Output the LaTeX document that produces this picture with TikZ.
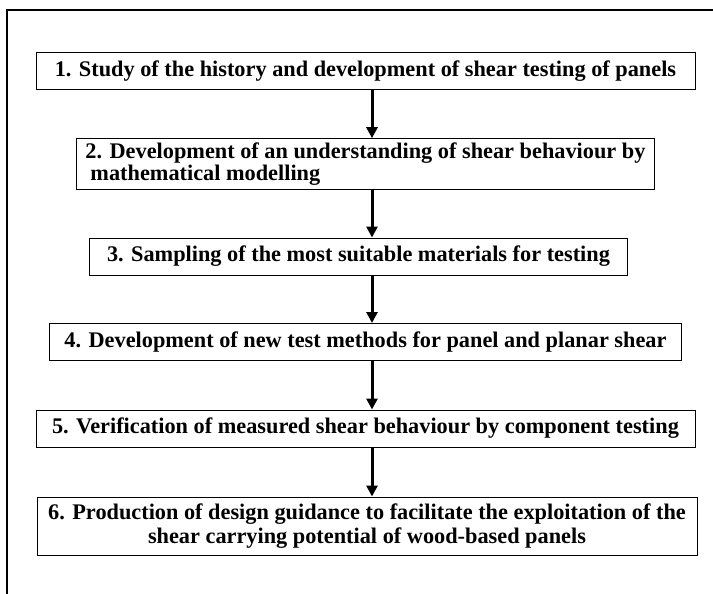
\documentclass[tikz,border=0pt]{standalone}
\usepackage{fontspec}
\setmainfont{Liberation Serif}
\usepackage{tikz}
\usetikzlibrary{arrows.meta}
\tikzstyle{stage} = [rectangle, draw=black, line width=1pt, minimum height=37pt, inner sep=4pt, text centered, font=\fontsize{22.3}{22}\selectfont\bfseries]
\tikzstyle{arrow} = [line width=3pt, -{Triangle[length=11pt, width=11pt]}]
\tikzstyle{frame} = [line width=2.4pt, black]

\begin{document}
\begin{tikzpicture}[x=1pt, y=1pt, node distance=92.5pt]
\useasboundingbox (0,0) rectangle (713,-594);

% Outer frame
\draw [frame] (7,-594) -- (7,-10) -- (713,-10);

% Stage Nodes
\node (history) [stage, minimum width=659pt] at (365.5,-71.5) {1. Study of the history and development of shear testing of panels};
\node (modelling) [stage, below of=history, minimum width=578pt, minimum height=50pt, align=left] {2. Development of an understanding of shear behaviour by\\\hspace*{5pt}mathematical modelling};
\node (sampling) [stage, below of=modelling, xshift=-7pt, minimum width=538pt] {3. Sampling of the most suitable materials for testing};
\node (methods) [stage, below of=sampling, xshift=7pt, yshift=7pt, minimum width=632pt] {4. Development of new test methods for panel and planar shear};
\node (verification) [stage, below of=methods, yshift=6pt, minimum width=659pt] {5. Verification of measured shear behaviour by component testing};
\node (guidance) [stage, below of=verification, xshift=1.5pt, yshift=-5pt, minimum width=660pt, minimum height=58pt, align=center, font=\fontsize{22.3}{24}\selectfont\bfseries] {6. Production of design guidance to facilitate the exploitation of the\\shear carrying potential of wood-based panels};

% Arrows between stages
\coordinate (spine) at (372,0);
\draw [arrow] (spine |- history.south) -- (spine |- modelling.north);
\draw [arrow] (spine |- modelling.south) -- (spine |- sampling.north);
\draw [arrow] (spine |- sampling.south) -- (spine |- methods.north);
\draw [arrow] (spine |- methods.south) -- (spine |- verification.north);
\draw [arrow] (spine |- verification.south) -- (spine |- guidance.north);

\end{tikzpicture}
\end{document}
